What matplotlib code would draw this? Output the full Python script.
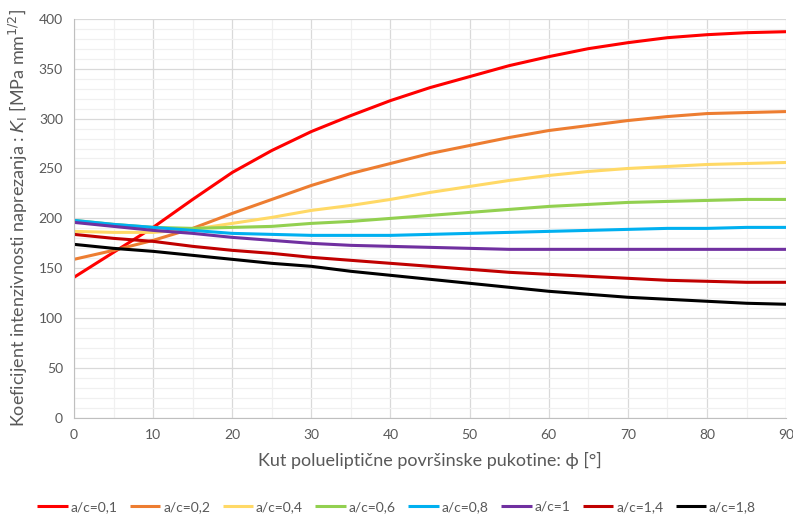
import matplotlib.pyplot as plt
from matplotlib.ticker import MultipleLocator

plt.rcParams['font.family'] = ['Lato', 'DejaVu Sans']

# kut phi [deg]
phi = [0, 5, 10, 15, 20, 25, 30, 35, 40, 45, 50, 55, 60, 65, 70, 75, 80, 85, 90]

k_01 = [141, 166, 191, 219, 246, 268, 287, 303, 318, 331, 342, 353, 362, 370, 376, 381, 384, 386, 387]
k_02 = [159, 168, 178, 190, 205, 219, 233, 245, 255, 265, 273, 281, 288, 293, 298, 302, 305, 306, 307]
k_04 = [187, 186, 186, 189, 195, 201, 208, 213, 219, 226, 232, 238, 243, 247, 250, 252, 254, 255, 256]
k_06 = [198, 194, 191, 190, 191, 192, 195, 197, 200, 203, 206, 209, 212, 214, 216, 217, 218, 219, 219]
k_08 = [198, 194, 191, 188, 185, 184, 183, 183, 183, 184, 185, 186, 187, 188, 189, 190, 190, 191, 191]
k_10 = [196, 192, 188, 185, 181, 178, 175, 173, 172, 171, 170, 169, 169, 169, 169, 169, 169, 169, 169]
k_14 = [184, 180, 177, 172, 168, 165, 161, 158, 155, 152, 149, 146, 144, 142, 140, 138, 137, 136, 136]
k_18 = [174, 170, 167, 163, 159, 155, 152, 147, 143, 139, 135, 131, 127, 124, 121, 119, 117, 115, 114]

series = [
    ("a/c=0,1", k_01, "#FF0000"),
    ("a/c=0,2", k_02, "#ED7D31"),
    ("a/c=0,4", k_04, "#FFD966"),
    ("a/c=0,6", k_06, "#92D050"),
    ("a/c=0,8", k_08, "#00B0F0"),
    ("a/c=1", k_10, "#7030A0"),
    ("a/c=1,4", k_14, "#C00000"),
    ("a/c=1,8", k_18, "#000000"),
]

fig = plt.figure(figsize=(7.93, 5.2), dpi=100)
ax = fig.add_axes([0.0933, 0.196, 0.898, 0.768])

for label, vals, col in series:
    ax.plot(phi, vals, color=col, lw=2.2, label=label, solid_capstyle='butt')

ax.set_xlim(0, 90)
ax.set_ylim(0, 400)
ax.xaxis.set_major_locator(MultipleLocator(10))
ax.xaxis.set_minor_locator(MultipleLocator(5))
ax.yaxis.set_major_locator(MultipleLocator(50))
ax.yaxis.set_minor_locator(MultipleLocator(10))
ax.grid(which='major', color='#D9D9D9', lw=0.9)
ax.grid(which='minor', color='#F0F0F0', lw=0.9)
ax.set_axisbelow(True)

for s in ['top', 'right']:
    ax.spines[s].set_visible(False)
for s in ['left', 'bottom']:
    ax.spines[s].set_color('#BFBFBF')
ax.tick_params(which='both', length=0, colors='#595959', labelsize=10)
ax.tick_params(axis='x', pad=8)
ax.tick_params(axis='y', pad=8)

ax.set_xlabel("Kut polueliptične površinske pukotine: ϕ [°]", fontsize=13, color='#595959', labelpad=8)
ax.set_ylabel("Koeficijent intenzivnosti naprezanja : $K_\\mathrm{I}$ [MPa mm$^{1/2}$]",
              fontsize=13, color='#595959', labelpad=6)

fig.legend(loc='lower center', ncol=8, frameon=False, fontsize=10,
           handlelength=2.2, handletextpad=0.2, columnspacing=0.9,
           bbox_to_anchor=(0.5, -0.01), labelcolor='#595959')

fig.savefig("out.png", dpi=100)
